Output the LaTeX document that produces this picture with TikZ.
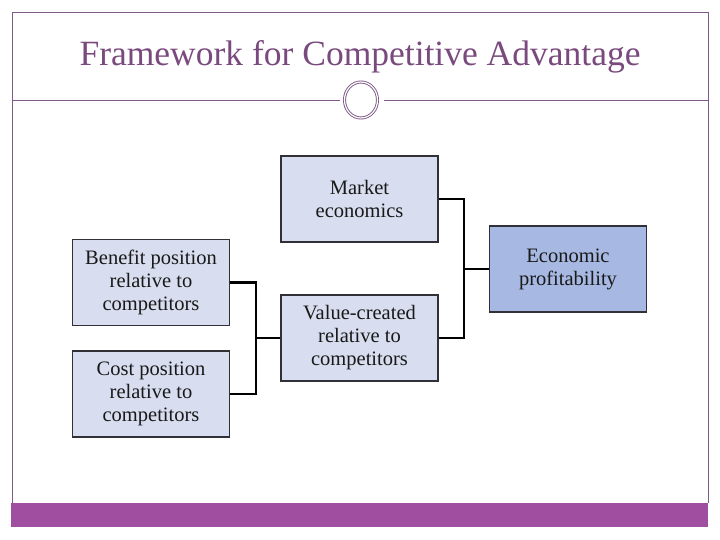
\documentclass[tikz,border=0pt]{standalone}
\usepackage{fontspec}
\usetikzlibrary{shapes.geometric}
\setmainfont{Liberation Serif}
\definecolor{framec}{HTML}{7E5A86}
\definecolor{titlec}{HTML}{7A4A7E}
\definecolor{barc}{HTML}{A04EA0}
\definecolor{boxfill}{HTML}{D8DEEF}
\definecolor{econfill}{HTML}{A7B8E2}
\definecolor{boxline}{HTML}{303036}
\begin{document}
\begin{tikzpicture}[x=1pt,y=-1pt,
  box/.style={draw=boxline, line width=1.3pt, fill=boxfill, minimum width=157pt, minimum height=86pt, align=center, inner sep=0pt, font=\fontsize{20.5}{23}\selectfont, text=black!90},
  conn/.style={draw=black, line width=2.3pt}]
\useasboundingbox (0,0) rectangle (720,540);
\fill[white] (0,0) rectangle (720,540);
% frame
\draw[framec, line width=0.8pt] (12,503) -- (12,12) -- (708,12) -- (708,503);
\fill[barc] (11,503) rectangle (708,527);
% header line and circle
\draw[framec, line width=0.8pt] (12,100) -- (340,100);
\draw[framec, line width=0.8pt] (384,100) -- (708,100);
\node[draw=framec, double=white, double distance=1.2pt, line width=0.9pt, ellipse, minimum width=33pt, minimum height=36pt, inner sep=0pt] (ring) at (361,100) {};
% title
\node[text=titlec, font=\fontsize{35.5}{40}\selectfont] (title) at (360,57) {Framework for Competitive Advantage};
% boxes
\node[box] (market) at (359.5,199) {Market\\economics};
\node[box] (benefit) at (151,282.5) {Benefit position\\relative to\\competitors};
\node[box] (cost) at (151,394) {Cost position\\relative to\\competitors};
\node[box] (value) at (359.5,338) {Value-created\\relative to\\competitors};
\node[box, fill=econfill] (econ) at (568,269) {Economic\\profitability};
% connectors
\coordinate (lj) at (256,338);
\coordinate (rj) at (464,269);
\draw[conn] (benefit.east) -| (lj);
\draw[conn] (cost.east) -| (lj);
\draw[conn] (lj) -- (value.west);
\draw[conn] (market.east) -| (rj);
\draw[conn] (value.east) -| (rj);
\draw[conn] (rj) -- (econ.west);
\end{tikzpicture}
\end{document}
